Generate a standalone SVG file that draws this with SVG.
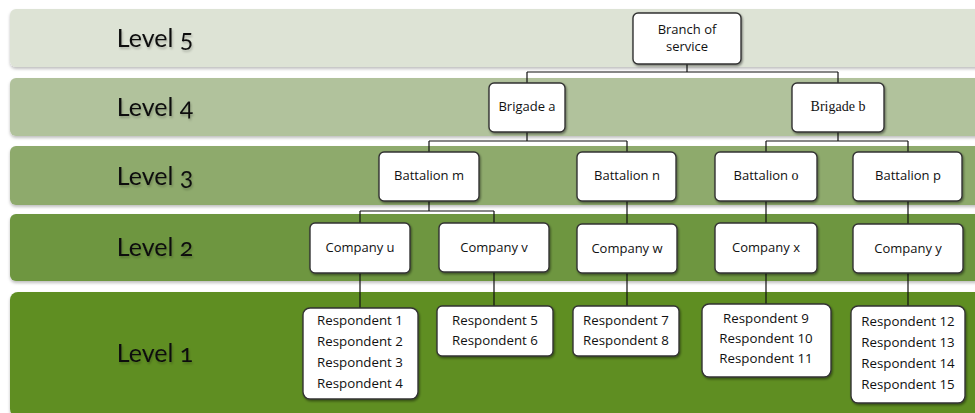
<svg xmlns="http://www.w3.org/2000/svg" width="975" height="413" viewBox="0 0 975 413">
  <defs>
    <filter id="bandShadow" x="-5%" y="-20%" width="110%" height="150%">
      <feDropShadow dx="0" dy="2" stdDeviation="1.5" flood-color="#000" flood-opacity="0.25"/>
    </filter>
    <filter id="textShadow" x="-10%" y="-30%" width="120%" height="160%">
      <feDropShadow dx="1" dy="2" stdDeviation="1.2" flood-color="#000" flood-opacity="0.22"/>
    </filter>
    <filter id="boxShadow" x="-10%" y="-10%" width="125%" height="130%">
      <feDropShadow dx="1" dy="1.5" stdDeviation="1" flood-color="#000" flood-opacity="0.45"/>
    </filter>
  </defs>
  <style>
    .band { filter: url(#bandShadow); }
    .lvl { font-family: Lato, "Open Sans", "Noto Sans", sans-serif; font-size: 25px; fill: #111; text-anchor: middle; filter: url(#textShadow); font-variant-numeric: oldstyle-nums; }
    .box { fill: #fff; stroke: #333; stroke-width: 1.4; filter: url(#boxShadow); }
    .t { font-family: "Open Sans", "Noto Sans", sans-serif; font-size: 13px; fill: #111; text-anchor: middle; }
    .r { font-family: "Open Sans", "Noto Sans", sans-serif; font-size: 13.3px; fill: #111; text-anchor: middle; }
    .serif { font-family: "Liberation Serif", serif; font-size: 14px; }
    .conn path { fill: none; stroke: #111; stroke-width: 1.2; }
  </style>

  <rect width="975" height="413" fill="#ffffff"/>

  <!-- level bands -->
  <g id="bands">
    <rect class="band" x="10" y="9" width="975" height="58" rx="6" fill="#dde3d5"/>
    <rect class="band" x="10" y="78" width="975" height="58" rx="6" fill="#b1c29c"/>
    <rect class="band" x="10" y="146" width="975" height="59" rx="6" fill="#8eaa6c"/>
    <rect class="band" x="10" y="214" width="975" height="67" rx="6" fill="#6e963f"/>
    <rect class="band" x="10" y="292" width="975" height="125" rx="8" fill="#5e8e22"/>
  </g>

  <g id="level-labels">
    <text class="lvl" x="155" y="47">Level 5</text>
    <text class="lvl" x="155" y="116">Level 4</text>
    <text class="lvl" x="155" y="185">Level 3</text>
    <text class="lvl" x="155" y="256">Level 2</text>
    <text class="lvl" x="155" y="362">Level 1</text>
  </g>

  <!-- connectors -->
  <g id="connectors" class="conn">
    <path d="M687 64 V72 M527 72 H838 M527 72 V83 M838 72 V83"/>
    <path d="M527 132 V141 M429 141 H627 M429 141 V152 M627 141 V152"/>
    <path d="M838 132 V141 M766 141 H908 M766 141 V152 M908 141 V152"/>
    <path d="M429 201 V211 M360 211 H494 M360 211 V223 M494 211 V223"/>
    <path d="M627 201 V224 M766 201 V223 M908 201 V224"/>
    <path d="M360 273 V308 M494 272 V306 M627 273 V306 M766 273 V304 M908 273 V306"/>
  </g>

  <!-- level 5 -->
  <g id="branch">
    <rect class="box" x="633" y="13" width="108" height="51" rx="5"/>
    <text class="t" x="687" y="33.5" font-size="12">Branch of</text>
    <text class="t" x="687" y="50.5" font-size="12">service</text>
  </g>

  <!-- level 4 -->
  <g id="brigade-a">
    <rect class="box" x="489" y="83" width="76" height="49" rx="5"/>
    <text class="t" x="527" y="111">Brigade a</text>
  </g>
  <g id="brigade-b">
    <rect class="box" x="792" y="83" width="92" height="49" rx="5"/>
    <text class="t serif" x="838" y="111">Brigade b</text>
  </g>

  <!-- level 3 -->
  <g id="battalion-m">
    <rect class="box" x="379" y="152" width="100" height="49" rx="5"/>
    <text class="t" x="429" y="180">Battalion m</text>
  </g>
  <g id="battalion-n">
    <rect class="box" x="577" y="152" width="99" height="49" rx="5"/>
    <text class="t" x="627" y="180">Battalion n</text>
  </g>
  <g id="battalion-o">
    <rect class="box" x="715" y="152" width="102" height="49" rx="5"/>
    <text class="t" x="766" y="180">Battalion <tspan class="serif">o</tspan></text>
  </g>
  <g id="battalion-p">
    <rect class="box" x="853" y="152" width="109" height="49" rx="5"/>
    <text class="t" x="908" y="180">Battalion p</text>
  </g>

  <!-- level 2 -->
  <g id="company-u">
    <rect class="box" x="310" y="223" width="100" height="50" rx="5"/>
    <text class="t" x="360" y="252">Company u</text>
  </g>
  <g id="company-v">
    <rect class="box" x="439" y="223" width="110" height="49" rx="5"/>
    <text class="t" x="494" y="252">Company v</text>
  </g>
  <g id="company-w">
    <rect class="box" x="577" y="224" width="100" height="49" rx="5"/>
    <text class="t" x="627" y="253">Company w</text>
  </g>
  <g id="company-x">
    <rect class="box" x="715" y="223" width="102" height="50" rx="5"/>
    <text class="t" x="766" y="252">Company x</text>
  </g>
  <g id="company-y">
    <rect class="box" x="853" y="224" width="110" height="49" rx="5"/>
    <text class="t" x="908" y="253">Company y</text>
  </g>

  <!-- level 1 -->
  <g id="respondents-1-4">
    <rect class="box" x="303" y="308" width="115" height="91" rx="7"/>
    <text class="r" x="360" y="325">Respondent 1</text>
    <text class="r" x="360" y="346">Respondent 2</text>
    <text class="r" x="360" y="367">Respondent 3</text>
    <text class="r" x="360" y="388">Respondent 4</text>
  </g>
  <g id="respondents-5-6">
    <rect class="box" x="437" y="306" width="116" height="50" rx="5"/>
    <text class="r" x="495" y="325">Respondent 5</text>
    <text class="r" x="495" y="345">Respondent 6</text>
  </g>
  <g id="respondents-7-8">
    <rect class="box" x="573" y="306" width="106" height="50" rx="5"/>
    <text class="r" x="626" y="325">Respondent 7</text>
    <text class="r" x="626" y="345">Respondent 8</text>
  </g>
  <g id="respondents-9-11">
    <rect class="box" x="702" y="304" width="129" height="73" rx="7"/>
    <text class="r" x="766" y="323" font-size="12.5">Respondent 9</text>
    <text class="r" x="766" y="343" font-size="12.5">Respondent 10</text>
    <text class="r" x="766" y="363" font-size="12.5">Respondent 11</text>
  </g>
  <g id="respondents-12-15">
    <rect class="box" x="851" y="306" width="114" height="97" rx="7"/>
    <text class="r" x="908" y="326">Respondent 12</text>
    <text class="r" x="908" y="347">Respondent 13</text>
    <text class="r" x="908" y="368">Respondent 14</text>
    <text class="r" x="908" y="389">Respondent 15</text>
  </g>
</svg>
